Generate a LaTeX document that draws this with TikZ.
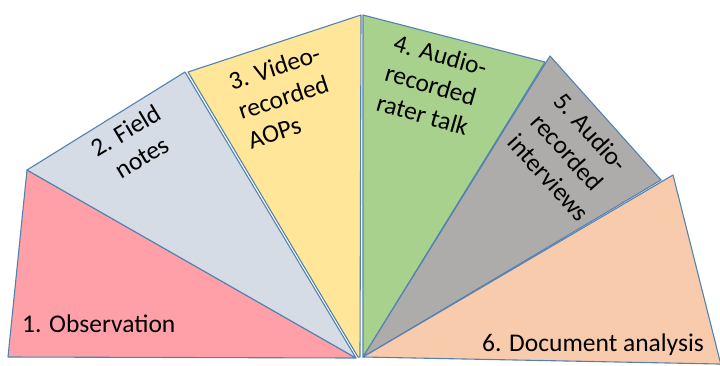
\documentclass[tikz,border=0pt]{standalone}
\usepackage{fontspec}
\setmainfont{Carlito}
\begin{document}
\begin{tikzpicture}[x=1bp,y=-1bp,
  wedge/.style={draw=edgeblue, line width=1.1bp, line join=round},
  lbl/.style={inner sep=0pt, text=black, font=\fontsize{25.5bp}{31bp}\selectfont}]
\definecolor{edgeblue}{RGB}{84,130,176}
\definecolor{wpink}{RGB}{255,159,167}
\definecolor{wslate}{RGB}{214,220,229}
\definecolor{wgold}{RGB}{255,230,153}
\definecolor{wgreen}{RGB}{169,209,142}
\definecolor{wgrey}{RGB}{174,171,171}
\definecolor{wpeach}{RGB}{248,203,173}
\useasboundingbox (0,0) rectangle (720,365);

% corners of the fan
\coordinate (apexL) at (356,358);
\coordinate (apexR) at (363,357);
\coordinate (p1) at (8,357);
\coordinate (p2) at (27,170);
\coordinate (p3) at (185,72);
\coordinate (p3b) at (188,72);
\coordinate (p4) at (361,15);
\coordinate (p4b) at (363,15);
\coordinate (p5) at (545,62);
\coordinate (p5b) at (550,56);
\coordinate (p6) at (661,180);
\coordinate (p6b) at (673,175);
\coordinate (p7) at (721,365);

% the six wedges
\fill[wpink] (apexL) -- (p1) -- (p2) -- cycle;
\draw[wedge] (apexL) -- (p1) -- (p2) -- cycle;
\draw[wedge, fill=wslate] (apexL) -- (p2) -- (p3) -- cycle;
\draw[wedge, fill=wgold] (358,357) -- (p3b) -- (p4) -- (360,357) -- cycle;
\draw[wedge, fill=wgreen] (apexR) -- (p4b) -- (p5) -- cycle;
\draw[wedge, fill=wgrey] (apexR) -- (p5b) -- (p6) -- cycle;
\draw[wedge, fill=wpeach] (apexR) -- (p6b) -- (p7) -- (719,364) -- cycle;

% labels
\node[lbl, anchor=base west] (t1) at (22,332) {1. Observation};
\node[lbl, align=center, rotate=31] (t2) at (134,144) {2. Field\\notes};
\node[lbl, align=left, rotate=18] (t3) at (284,97) {3. Video-\\recorded\\AOPs};
\node[lbl, align=left, rotate=-16] (t4) at (432,85) {4. Audio-\\recorded\\rater talk};
\node[lbl, align=left, rotate=-48] (t5) at (572,157) {5. Audio-\\recorded\\interviews};
\node[lbl, anchor=base west] (t6) at (482,351) {6. Document analysis};
\end{tikzpicture}
\end{document}
